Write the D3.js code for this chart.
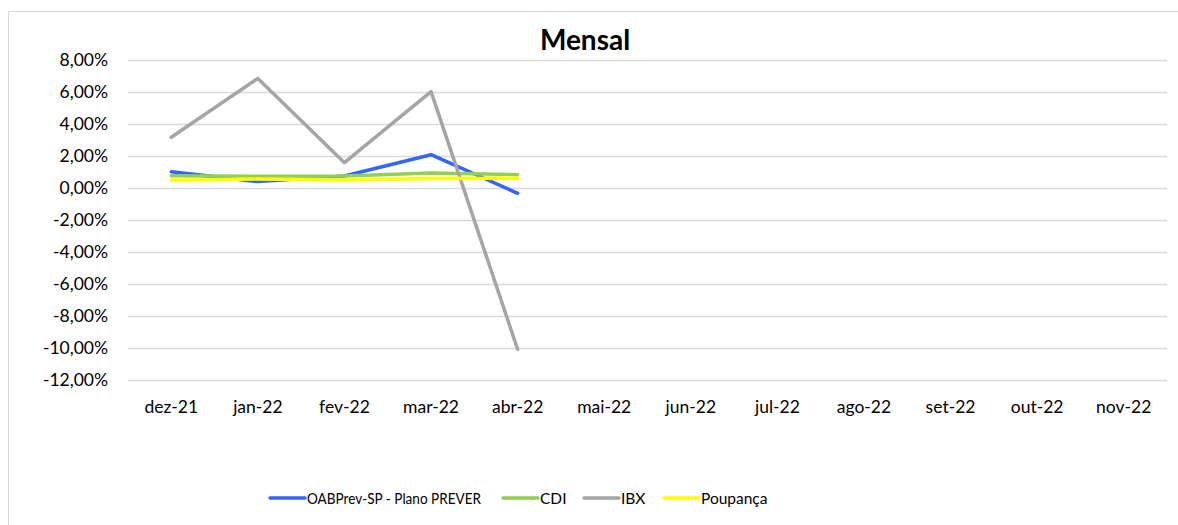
<!DOCTYPE html>
<html><head><meta charset="utf-8">
<script src="https://cdn.jsdelivr.net/npm/d3@7"></script>
<style>body{margin:0;background:#fff}svg{display:block;font-family:Lato,"Open Sans",sans-serif}</style>
</head><body><svg id="c" width="1178" height="525"></svg>
<script>
const categories = ["dez-21","jan-22","fev-22","mar-22","abr-22","mai-22","jun-22","jul-22","ago-22","set-22","out-22","nov-22"];
const oabprev = [1.02, 0.40, 0.75, 2.08, -0.33];
const cdi = [0.76, 0.73, 0.75, 0.93, 0.83];
const ibx = [3.17, 6.85, 1.58, 6.02, -10.08];
const poupanca = [0.49, 0.56, 0.50, 0.59, 0.61];
const yTicks = [8,6,4,2,0,-2,-4,-6,-8,-10,-12];
const seriesNames = ["OABPrev-SP - Plano PREVER","CDI","IBX","Poupança"];
const seriesColors = ["#3366ff","#92d050","#a5a5a5","#ffff00"];

const series = [
  {name: seriesNames[0], values: oabprev, color: seriesColors[0]},
  {name: seriesNames[1], values: cdi, color: seriesColors[1]},
  {name: seriesNames[2], values: ibx, color: seriesColors[2]},
  {name: seriesNames[3], values: poupanca, color: seriesColors[3]}
];

const svg = d3.select("#c");
svg.append("path").attr("d","M8.5,525 V11.5 H1178").attr("fill","none").attr("stroke","#d9d9d9").attr("stroke-width",1);

const x = d3.scaleBand().domain(categories).range([128,1167]);
const y = d3.scaleLinear().domain([-12,8]).range([380,60]);

svg.append("g").selectAll("line").data(yTicks).join("line")
  .attr("x1",128).attr("x2",1167)
  .attr("y1",d=>Math.round(y(d))+0.5).attr("y2",d=>Math.round(y(d))+0.5)
  .attr("stroke","#d9d9d9").attr("stroke-width",1.3);

const fmt = d => d.toFixed(2).replace(".",",") + "%";
const yAxis = svg.append("g").attr("transform","translate(128,0)")
  .call(d3.axisLeft(y).tickValues(yTicks).tickFormat(fmt).tickSize(0).tickPadding(20));
yAxis.select(".domain").remove();
yAxis.selectAll("text").attr("font-size",17.5).attr("fill","#000").attr("font-family","Lato,'Open Sans',sans-serif");

const xAxis = svg.append("g").attr("transform","translate(0,396)")
  .call(d3.axisBottom(x).tickSize(0).tickPadding(5));
xAxis.select(".domain").remove();
xAxis.selectAll("text").attr("font-size",17.5).attr("fill","#000").attr("font-family","Lato,'Open Sans',sans-serif");

const line = d3.line().x((d,i)=>x(categories[i])+x.bandwidth()/2).y(d=>y(d));
series.forEach(s=>{
  svg.append("path").datum(s.values).attr("d",line)
    .attr("fill","none").attr("stroke",s.color).attr("stroke-width",3.5)
    .attr("stroke-linejoin","round").attr("stroke-linecap","round");
});

svg.append("text").attr("x",585).attr("y",50).attr("text-anchor","middle")
  .attr("font-size",28).attr("font-weight","bold").text("Mensal");

const legendX = [270, 503, 584, 664];
const lg = svg.append("g");
series.forEach((s,i)=>{
  lg.append("line").attr("x1",legendX[i]).attr("x2",legendX[i]+35).attr("y1",498).attr("y2",498)
    .attr("stroke",s.color).attr("stroke-width",3.5).attr("stroke-linecap","round");
  lg.append("text").attr("x",legendX[i]+37).attr("y",504).attr("font-size",15.5)
    .attr("textLength", i===0 ? 174 : null).attr("lengthAdjust","spacingAndGlyphs").text(s.name);
});
</script></body></html>
